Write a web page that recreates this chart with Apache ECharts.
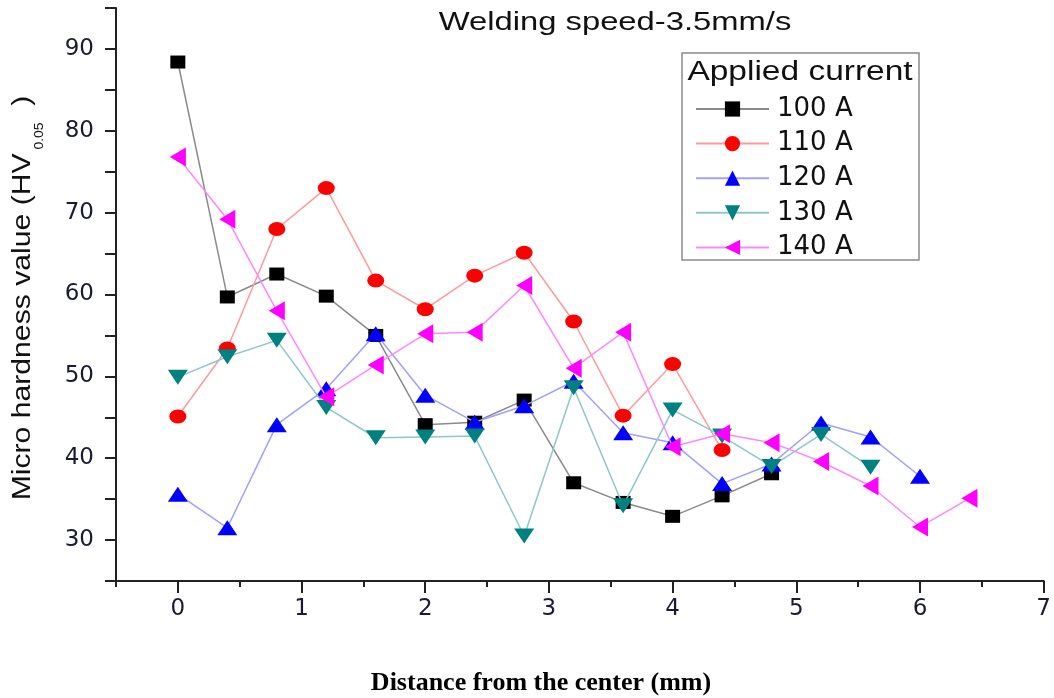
<!DOCTYPE html>
<html>
<head>
<meta charset="utf-8">
<script src="https://cdn.jsdelivr.net/npm/echarts@6/dist/echarts.min.js"></script>
<style>
html,body{margin:0;padding:0;background:#fff;}
#chart{width:1054px;height:698px;}
</style>
</head>
<body>
<div id="chart"></div>
<script>
// Distance from the center (mm)
const distances = [0, 0.4, 0.8, 1.2, 1.6, 2.0, 2.4, 2.8, 3.2, 3.6, 4.0, 4.4, 4.8, 5.2, 5.6, 6.0, 6.4];
const seriesNames = ['100 A', '110 A', '120 A', '130 A', '140 A'];
// Micro hardness values (HV0.05)
const hv100 = [88.4, 59.7, 62.5, 59.8, 55.0, 44.1, 44.4, 47.1, 37.0, 34.6, 32.9, 35.4, 38.1];
const hv110 = [45.1, 53.4, 68.0, 73.0, 61.7, 58.2, 62.3, 65.1, 56.7, 45.2, 51.5, 41.0];
const hv120 = [35.6, 31.5, 44.1, 48.5, 55.2, 47.7, 44.4, 46.4, 49.4, 43.1, 41.9, 36.9, 39.3, 44.3, 42.6, 37.8];
const hv130 = [49.9, 52.4, 54.4, 46.2, 42.5, 42.6, 42.7, 30.5, 48.6, 34.2, 45.9, 42.7, 39.0, 42.9, 38.9];
const hv140 = [76.8, 69.2, 58.0, 47.5, 51.4, 55.2, 55.4, 61.1, 51.0, 55.4, 41.4, 43.0, 41.9, 39.6, 36.6, 31.6, 35.1];

// Tick values
const xMajorTicks = [0, 1, 2, 3, 4, 5, 6, 7];
const xMinorTicks = [-0.5, 0.5, 1.5, 2.5, 3.5, 4.5, 5.5, 6.5];
const yMajorTicks = [30, 40, 50, 60, 70, 80, 90];

const titleText = 'Welding speed-3.5mm/s';
const legendTitle = 'Applied current';
const xName = 'Distance from the center (mm)';

function pairs(vals) { return vals.map((v, i) => [distances[i], v]); }

const styles = [
  { line: '#8a8a8a', mark: '#000000', symbol: 'rect', size: [15, 13], rot: 0 },
  { line: '#ff9a9a', mark: '#ff0000', symbol: 'circle', size: [17, 14], rot: 0 },
  { line: '#a0a0ff', mark: '#0000ff', symbol: 'triangle', size: [20, 15], rot: 0 },
  { line: '#8cc8c8', mark: '#008080', symbol: 'triangle', size: [20, 15], rot: 180 },
  { line: '#ff88ff', mark: '#ff00ff', symbol: 'triangle', size: [19, 16], rot: 90 }
];
const allData = [hv100, hv110, hv120, hv130, hv140];

const series = allData.map((vals, k) => ({
  name: seriesNames[k],
  type: 'line',
  xAxisIndex: 0,
  yAxisIndex: 0,
  data: pairs(vals),
  symbol: styles[k].symbol,
  symbolSize: styles[k].size,
  symbolRotate: styles[k].rot,
  showAllSymbol: true,
  lineStyle: { color: styles[k].line, width: 1.5 },
  itemStyle: { color: styles[k].mark, borderWidth: 0 },
  emphasis: { disabled: true },
  z: 2 + k,
  animation: false
}));

const chart = echarts.init(document.getElementById('chart'), null, { renderer: 'canvas' });
const font = '"Liberation Sans", Arial, sans-serif';
const tickFont = '"DejaVu Sans", sans-serif';
const axisColor = '#222';

chart.setOption({
  backgroundColor: '#ffffff',
  animation: false,
  grid: { left: 116, right: 8, top: 8, bottom: 117, containLabel: false },
  xAxis: [{
    type: 'value', min: -0.5, max: 7, interval: 0.5, position: 'bottom',
    axisLine: { show: true, onZero: false, lineStyle: { color: axisColor, width: 2 } },
    axisTick: { show: true, inside: false, length: 12, customValues: xMajorTicks, lineStyle: { color: axisColor, width: 2 } },
    splitLine: { show: false },
    axisLabel: {
      margin: 17, fontSize: 23, fontFamily: tickFont, color: '#1a1a33',
      customValues: xMajorTicks
    }
  }, {
    type: 'value', min: -0.5, max: 7, interval: 0.5, position: 'bottom', offset: 0,
    axisLine: { show: false, onZero: false },
    axisTick: { show: true, inside: false, length: 6, customValues: xMinorTicks, lineStyle: { color: axisColor, width: 2 } },
    splitLine: { show: false },
    axisLabel: { show: false }
  }],
  yAxis: {
    type: 'value', min: 25, max: 95, interval: 5, position: 'left',
    axisLine: { show: true, onZero: false, lineStyle: { color: axisColor, width: 2 } },
    axisTick: { show: true, inside: false, length: 11, lineStyle: { color: axisColor, width: 2 } },
    splitLine: { show: false },
    axisLabel: {
      margin: 22, fontSize: 23, fontFamily: tickFont, color: '#1a1a33',
      customValues: yMajorTicks
    }
  },
  legend: {
    orient: 'vertical', left: 690, top: 90,
    data: seriesNames,
    itemWidth: 73, itemHeight: 19, itemGap: 6.6,
    textStyle: { fontSize: 26, fontFamily: tickFont, color: '#111', lineHeight: 28, padding: [0, 0, 0, 3] },
    selectedMode: false,
    symbolRotate: 'inherit'
  },
  graphic: [
    {
      type: 'text', x: 615, y: 23, scaleX: 1.26, z: 10,
      style: { text: titleText, font: '26px ' + font, fill: '#111', align: 'center', verticalAlign: 'middle' }
    },
    {
      type: 'rect', z: 1,
      shape: { x: 682, y: 53, width: 237, height: 207 },
      style: { fill: 'none', stroke: '#8a8a8a', lineWidth: 1.5 }
    },
    {
      type: 'text', x: 800, y: 73, scaleX: 1.24, z: 10,
      style: { text: legendTitle, font: '27px ' + font, fill: '#111', align: 'center', verticalAlign: 'middle' }
    },
    {
      type: 'text', x: 25, y: 298, rotation: Math.PI / 2, scaleX: 1.16, z: 10,
      style: {
        text: '{n|Micro hardness value (HV}{s| 0.05}{n|  )}',
        align: 'center', verticalAlign: 'middle', fill: '#111',
        rich: {
          n: { fontSize: 26, fontFamily: font, lineHeight: 30, verticalAlign: 'top', fill: '#111' },
          s: { fontSize: 12, fontFamily: font, lineHeight: 12, verticalAlign: 'top', padding: [24, 0, 0, 0], fill: '#111' }
        }
      }
    },
    {
      type: 'text', x: 541, y: 683, z: 10,
      style: { text: xName, font: 'bold 26px "Liberation Serif", "Times New Roman", serif', fill: '#000', align: 'center', verticalAlign: 'middle' }
    }
  ],
  series: series
});
</script>
</body>
</html>
